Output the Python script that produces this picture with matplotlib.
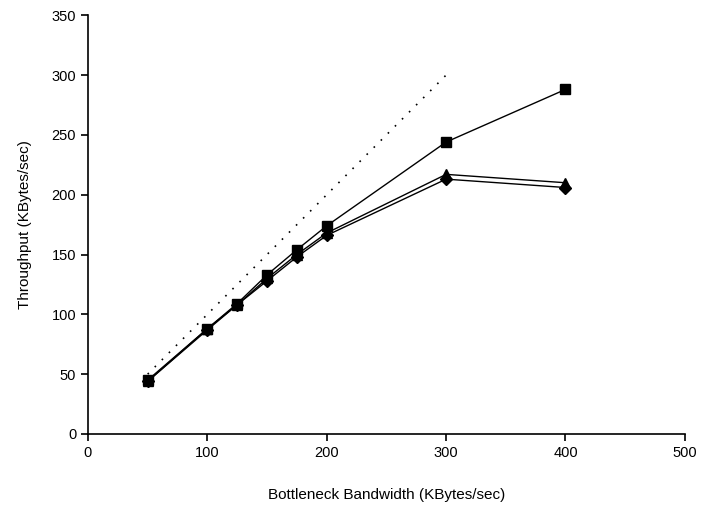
import matplotlib
matplotlib.use("Agg")
import matplotlib.pyplot as plt

plt.rcParams['font.family'] = ['Liberation Sans', 'DejaVu Sans']

bandwidth = [50, 100, 125, 150, 175, 200, 300, 400]
tput_square = [45, 88, 109, 133, 154, 174, 244, 288]
tput_triangle = [44, 88, 108, 130, 150, 168, 217, 210]
tput_diamond = [44, 87, 108, 128, 148, 166, 213, 206]
ideal_x = [50, 300]
ideal_y = [50, 300]

fig = plt.figure(figsize=(7.01, 5.08), dpi=100)
ax = fig.add_axes([0.1255, 0.1457, 0.8515, 0.8243])

# ideal line (throughput = bandwidth)
ax.plot(ideal_x, ideal_y, color='black', linestyle=(0, (1, 5)), linewidth=1.2)
ax.plot(bandwidth, tput_square, color='black', linewidth=1, marker='s', markersize=7)
ax.plot(bandwidth, tput_triangle, color='black', linewidth=1, marker='^', markersize=7)
ax.plot(bandwidth, tput_diamond, color='black', linewidth=1, marker='D', markersize=6)

ax.set_xlim(0, 500)
ax.set_ylim(0, 350)
ax.set_xticks(range(0, 501, 100))
ax.set_yticks(range(0, 351, 50))
ax.spines['top'].set_visible(False)
ax.spines['right'].set_visible(False)
for s in ['left', 'bottom']:
    ax.spines[s].set_linewidth(1.2)
ax.tick_params(direction='out', length=5, width=1.2, labelsize=10.5)
ax.set_xlabel('Bottleneck Bandwidth (KBytes/sec)', fontsize=11, labelpad=20)
ax.set_ylabel('Throughput (KBytes/sec)', fontsize=11, labelpad=14)

fig.savefig('out.png', dpi=100)
